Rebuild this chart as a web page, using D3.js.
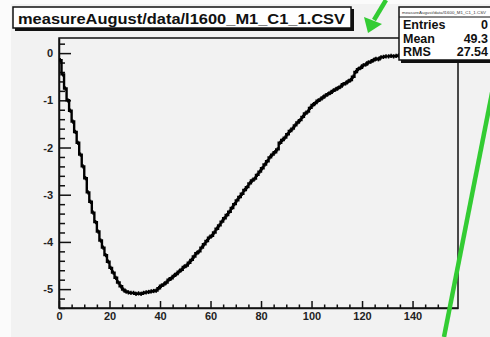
<!DOCTYPE html>
<html>
<head>
<meta charset="utf-8">
<script src="https://cdn.jsdelivr.net/npm/d3@7"></script>
<style>
  html, body { margin: 0; padding: 0; background: #fbfbfb; }
  svg { display: block; font-family: "Liberation Sans", Arial, Helvetica, sans-serif; }
</style>
</head>
<body>
<svg id="chart" width="490" height="337"></svg>
<script>
// Histogram contents, one value per bin of width 1 starting at x = 0
const binStart = 0;
const binValues = [
  -0.15, -0.45, -0.75, -1.00, -1.22, -1.45, -1.67, -1.90, -2.15, -2.40,
  -2.65, -2.95, -3.15, -3.38, -3.58, -3.78, -3.97, -4.12, -4.28, -4.42,
  -4.55, -4.65, -4.76, -4.86, -4.94, -5.01, -5.05, -5.07, -5.08, -5.08,
  -5.10, -5.09, -5.10, -5.08, -5.07, -5.06, -5.05, -5.04, -5.03, -4.98,
  -4.93, -4.90, -4.86, -4.80, -4.77, -4.72, -4.68, -4.63, -4.59, -4.53,
  -4.50, -4.44, -4.38, -4.31, -4.24, -4.20, -4.12, -4.05, -3.98, -3.91,
  -3.87, -3.80, -3.72, -3.65, -3.57, -3.50, -3.43, -3.36, -3.28, -3.20,
  -3.12, -3.05, -2.98, -2.90, -2.84, -2.76, -2.70, -2.66, -2.58, -2.51,
  -2.44, -2.36, -2.29, -2.21, -2.15, -2.10, -2.04, -1.90, -1.84, -1.79,
  -1.72, -1.65, -1.60, -1.53, -1.47, -1.42, -1.35, -1.28, -1.24, -1.16,
  -1.10, -1.06, -1.01, -0.98, -0.94, -0.90, -0.87, -0.84, -0.80, -0.77,
  -0.74, -0.71, -0.66, -0.64, -0.60, -0.57, -0.50, -0.40, -0.34, -0.31,
  -0.26, -0.24, -0.20, -0.18, -0.15, -0.12, -0.13, -0.09, -0.08, -0.07,
  -0.07, -0.06, -0.07, -0.06, -0.05, -0.06, -0.05, -0.05, -0.04, -0.05,
  -0.05, -0.04, -0.05, -0.04, -0.04, -0.05
];
const binError = 0.045;

const xTicks = [0, 20, 40, 60, 80, 100, 120, 140];
const yTicks = [0, -1, -2, -3, -4, -5];
const xRange = [0, 158];
const yRange = [-5.4, 0.32];

const titleText = "measureAugust/data/l1600_M1_C1_1.CSV";
const statsLabels = ["Entries", "Mean", "RMS"];
const statsValues = ["0", "49.3", "27.54"];

const svg = d3.select("#chart");

// canvas
svg.append("rect").attr("x", 11).attr("y", 4).attr("width", 479).attr("height", 333).attr("fill", "#f2f2f2");

const frame = { left: 59, right: 458, top: 38, bottom: 308 };
const x = d3.scaleLinear().domain(xRange).range([frame.left, frame.right]);
const y = d3.scaleLinear().domain(yRange).range([frame.bottom, frame.top]);

// frame
svg.append("rect")
  .attr("x", frame.left).attr("y", frame.top)
  .attr("width", frame.right - frame.left).attr("height", frame.bottom - frame.top)
  .attr("fill", "none").attr("stroke", "#111").attr("stroke-width", 1.5);

// minor ticks
const yMinor = d3.range(-27, 2).map(i => i * 0.2).filter(v => Math.abs(v - Math.round(v)) > 1e-6);
const xMinor = d3.range(0, 159, 5).filter(v => v % 20 !== 0);

svg.append("g").attr("transform", `translate(${frame.left},0)`)
  .call(d3.axisLeft(y).tickValues(yMinor).tickSizeInner(-6).tickSizeOuter(0).tickFormat(""))
  .call(g => g.select(".domain").remove())
  .selectAll("line").attr("stroke", "#111").attr("stroke-width", 1.5);

svg.append("g").attr("transform", `translate(0,${frame.bottom})`)
  .call(d3.axisBottom(x).tickValues(xMinor).tickSizeInner(-3.5).tickSizeOuter(0).tickFormat(""))
  .call(g => g.select(".domain").remove())
  .selectAll("line").attr("stroke", "#111").attr("stroke-width", 1.5);

// major ticks and labels
const yAxis = svg.append("g").attr("transform", `translate(${frame.left},0)`)
  .call(d3.axisLeft(y).tickValues(yTicks).tickSizeInner(-12).tickSizeOuter(0).tickPadding(6)
    .tickFormat(d => d === 0 ? "0" : "-" + Math.abs(d)));
yAxis.select(".domain").attr("stroke", "#111").attr("stroke-width", 1.5);
yAxis.selectAll("line").attr("stroke", "#111").attr("stroke-width", 1.5);
yAxis.selectAll("text").attr("fill", "#222").attr("font-size", 11).attr("font-weight", "bold")
  .attr("font-family", "Liberation Sans, Arial, sans-serif");

const xAxis = svg.append("g").attr("transform", `translate(0,${frame.bottom})`)
  .call(d3.axisBottom(x).tickValues(xTicks).tickSizeInner(-7).tickSizeOuter(0).tickPadding(4));
xAxis.select(".domain").attr("stroke", "#111").attr("stroke-width", 1.5);
xAxis.selectAll("line").attr("stroke", "#111").attr("stroke-width", 1.5);
xAxis.selectAll("text").attr("fill", "#222").attr("font-size", 11).attr("font-weight", "bold")
  .attr("font-family", "Liberation Sans, Arial, sans-serif");

// histogram outline (stepped) with error bars
const bins = binValues.map((v, i) => ({ lo: binStart + i, hi: binStart + i + 1, v }));
const stepPts = [];
bins.forEach(b => { stepPts.push([b.lo, b.v]); stepPts.push([b.hi, b.v]); });

const plot = svg.append("g");
plot.append("path")
  .attr("d", d3.line().x(d => x(d[0])).y(d => y(d[1]))(stepPts))
  .attr("fill", "none").attr("stroke", "#000").attr("stroke-width", 2.4);

plot.selectAll("line.err").data(bins).join("line")
  .attr("class", "err")
  .attr("x1", d => x((d.lo + d.hi) / 2)).attr("x2", d => x((d.lo + d.hi) / 2))
  .attr("y1", d => y(d.v - binError)).attr("y2", d => y(d.v + binError))
  .attr("stroke", "#000").attr("stroke-width", 1.5);

// title box
const tb = svg.append("g");
tb.append("rect").attr("x", 15).attr("y", 9).attr("width", 339).attr("height", 22).attr("fill", "#111");
tb.append("rect").attr("x", 13).attr("y", 7).attr("width", 338).attr("height", 21)
  .attr("fill", "#fff").attr("stroke", "#111").attr("stroke-width", 1.5);
tb.append("text").attr("x", 18).attr("y", 23.5)
  .attr("font-size", 15.5).attr("font-weight", "bold").attr("fill", "#111")
  .attr("textLength", 327).attr("lengthAdjust", "spacingAndGlyphs")
  .text(titleText);

// statistics box
const sb = svg.append("g");
sb.append("rect").attr("x", 401).attr("y", 9).attr("width", 100).attr("height", 54).attr("fill", "#111");
sb.append("rect").attr("x", 399).attr("y", 7).attr("width", 100).attr("height", 53)
  .attr("fill", "#fff").attr("stroke", "#111").attr("stroke-width", 1.5);
sb.append("line").attr("x1", 399).attr("x2", 499).attr("y1", 17).attr("y2", 17)
  .attr("stroke", "#111").attr("stroke-width", 1);
sb.append("text").attr("x", 402).attr("y", 14).attr("font-size", 4.4).attr("fill", "#333")
  .attr("textLength", 84).attr("lengthAdjust", "spacingAndGlyphs")
  .text(titleText);
statsLabels.forEach((lab, i) => {
  sb.append("text").attr("x", 403).attr("y", 29 + i * 13.5)
    .attr("font-size", 12.5).attr("font-weight", "bold").attr("fill", "#111").text(lab);
  sb.append("text").attr("x", 488).attr("y", 29 + i * 13.5).attr("text-anchor", "end")
    .attr("font-size", 12.5).attr("font-weight", "bold").attr("fill", "#111").text(statsValues[i]);
});

// green markers
const green = "#33cc33";
svg.append("line").attr("x1", 493).attr("y1", 88).attr("x2", 444).attr("y2", 337)
  .attr("stroke", green).attr("stroke-width", 4.5);
svg.append("line").attr("x1", 386).attr("y1", 0).attr("x2", 374).attr("y2", 20)
  .attr("stroke", green).attr("stroke-width", 4.5);
svg.append("path").attr("d", "M364,17 L382,24 L368,33 Z").attr("fill", green);
</script>
</body>
</html>
